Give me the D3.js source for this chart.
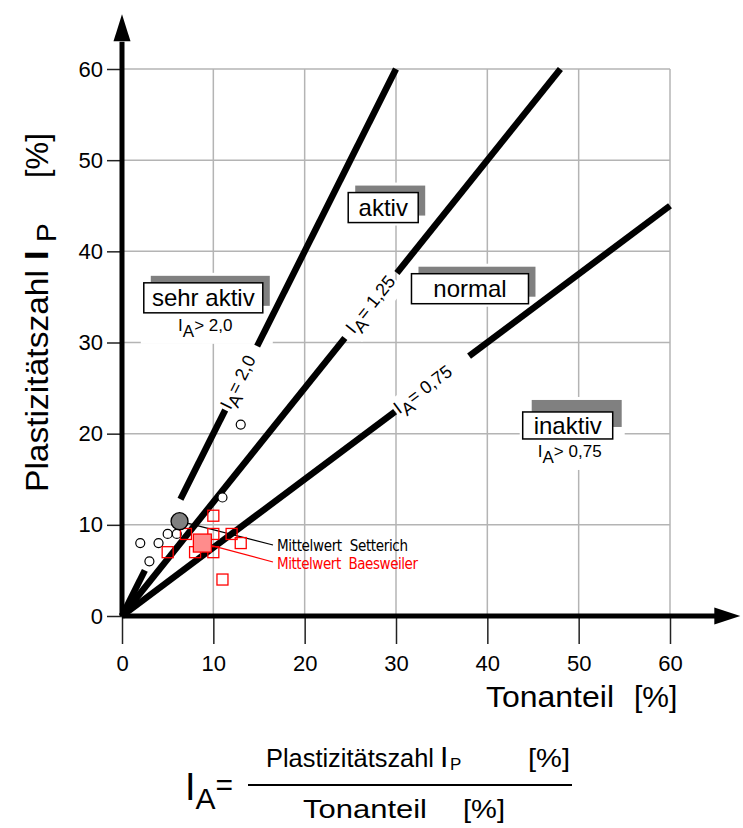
<!DOCTYPE html>
<html>
<head>
<meta charset="utf-8">
<script src="https://cdn.jsdelivr.net/npm/d3@7"></script>
<style>
  body { margin: 0; background: #fff; }
  svg { display: block; }
  text { font-family: "Liberation Sans", Arial, sans-serif; fill: #000; }
  .narrow { font-family: "Liberation Sans Narrow", "DejaVu Sans Condensed", sans-serif; }
</style>
</head>
<body>
<svg id="chart" width="743" height="828"></svg>
<script>
// Axis ticks (both axes share the same values)
const tickValues = [0, 10, 20, 30, 40, 50, 60];
const tickLabels = ["0", "10", "20", "30", "40", "50", "60"];

// Activity lines I_A = I_P / Tonanteil, drawn as pieces with gaps for labels and markers
const activityRatios = [2.0, 1.25, 0.75];
const activityLabels = ["2,0", "1,25", "0,75"];
const activityPieces = [
  [[0, 2.5], [6.4, 11.3], [14.8, 30]],
  [[0, 24.4], [30.1, 48]],
  [[0, 29.9], [38, 60]]
];
const activityLabelAt = [12.8, 27.3, 33];

// Samples Setterich (circles) and Baesweiler (squares): Tonanteil [%], I_P [%]
const setterichTon = [2, 3, 4, 5, 6, 11, 13];
const setterichIp  = [8, 6, 8, 9, 9, 13, 21];
const baesweilerTon = [5, 7, 8, 10, 10, 10, 11, 12, 13];
const baesweilerIp  = [7, 9, 7, 11, 9, 7, 4, 9, 8];
const meanSetterich  = [6.3, 10.4];
const meanBaesweiler = [8.8, 8.0];

// Activity zones
const zoneNames = ["sehr aktiv", "aktiv", "normal", "inaktiv"];
const zoneTon = [8.9, 28.6, 38.1, 48.8];
const zoneIp  = [34.9, 44.8, 35.9, 20.9];
const zoneRules = ["> 2,0", null, null, "> 0,75"];

// Box layout for the zone labels (pixels)
const zoneLayout = [
  { w: 119, h: 30, dx: 7, dy: -7 },
  { w: 70,  h: 30, dx: 7, dy: -7 },
  { w: 117, h: 30, dx: 7, dy: -7 },
  { w: 90,  h: 27, dx: 9, dy: -12 }
];

const svg = d3.select("#chart");
const x = d3.scaleLinear().domain([0, 60]).range([122, 670]);
const y = d3.scaleLinear().domain([0, 60]).range([616, 69]);

const gridColor = "#b4b4b4";

// Grid
const grid = svg.append("g");
grid.selectAll(".gv").data(tickValues.filter(d => d > 0)).join("line")
  .attr("x1", d => x(d)).attr("x2", d => x(d))
  .attr("y1", y(60)).attr("y2", y(0))
  .attr("stroke", gridColor).attr("stroke-width", 1.5);
grid.selectAll(".gh").data(tickValues.filter(d => d > 0)).join("line")
  .attr("x1", x(0)).attr("x2", x(60))
  .attr("y1", d => y(d)).attr("y2", d => y(d))
  .attr("stroke", gridColor).attr("stroke-width", 1.5);

// Axes with ticks
const xAxis = svg.append("g").attr("transform", `translate(0,${y(0)})`)
  .call(d3.axisBottom(x).tickValues(tickValues).tickFormat((d, i) => tickLabels[i])
    .tickSize(28).tickPadding(11));
const yAxis = svg.append("g").attr("transform", `translate(${x(0)},0)`)
  .call(d3.axisLeft(y).tickValues(tickValues).tickFormat((d, i) => tickLabels[i])
    .tickSize(15).tickPadding(4));
[xAxis, yAxis].forEach(a => {
  a.select(".domain").remove();
  a.selectAll(".tick line").attr("stroke", "#222").attr("stroke-width", 1.5);
  a.selectAll(".tick text").attr("font-size", 22).attr("font-family", "Liberation Sans, Arial, sans-serif").attr("fill", "#000");
});

// White backdrop helper so labels cut the grid
function backdrop(g, pad) {
  const b = g.node().getBBox();
  g.insert("rect", ":first-child")
    .attr("x", b.x - pad).attr("y", b.y - pad)
    .attr("width", b.width + 2 * pad).attr("height", b.height + 2 * pad)
    .attr("fill", "#fff");
}

// Text fitted to a given width
function fitted(parent, str, px, py, size, width) {
  return parent.append("text").attr("x", px).attr("y", py).attr("font-size", size)
    .attr("textLength", width).attr("lengthAdjust", "spacingAndGlyphs").text(str);
}

// Zone labels
zoneNames.forEach((name, i) => {
  const L = zoneLayout[i];
  const cx = x(zoneTon[i]), cy = y(zoneIp[i]);
  const g = svg.append("g");
  g.append("rect")
    .attr("x", cx - L.w / 2 + L.dx).attr("y", cy - L.h / 2 + L.dy)
    .attr("width", L.w).attr("height", L.h).attr("fill", "#808080");
  g.append("rect")
    .attr("x", cx - L.w / 2).attr("y", cy - L.h / 2)
    .attr("width", L.w).attr("height", L.h)
    .attr("fill", "#fff").attr("stroke", "#000").attr("stroke-width", 1.5);
  g.append("text").attr("x", cx).attr("y", cy + 8.5)
    .attr("text-anchor", "middle").attr("font-size", 24).text(name);
  if (zoneRules[i]) {
    const t = g.append("text").attr("x", cx + 2).attr("y", cy + L.h / 2 + 18)
      .attr("text-anchor", "middle").attr("font-size", 17);
    t.append("tspan").text("I");
    t.append("tspan").attr("dy", 6).attr("font-size", 17).text("A");
    t.append("tspan").attr("dy", -6).text(zoneRules[i]);
  }
  backdrop(g, 3);
});

// Activity lines
activityRatios.forEach((r, i) => {
  const ang = Math.atan2(y(r * 10) - y(0), x(10) - x(0)) * 180 / Math.PI;
  const lx = activityLabelAt[i];
  const g = svg.append("g")
    .attr("transform", `translate(${x(lx)},${y(r * lx)}) rotate(${ang})`);
  const t = g.append("text").attr("text-anchor", "middle").attr("y", 5).attr("font-size", 18);
  t.append("tspan").text("I");
  t.append("tspan").attr("dy", 6).text("A");
  t.append("tspan").attr("dy", -6).text("= " + activityLabels[i]);
  backdrop(g, 1);

  svg.append("g").selectAll("line").data(activityPieces[i]).join("line")
    .attr("x1", d => x(d[0])).attr("y1", d => y(r * d[0]))
    .attr("x2", d => x(d[1])).attr("y2", d => y(r * d[1]))
    .attr("stroke", "#000").attr("stroke-width", 6.5);
});

// Main axis lines with arrow heads
svg.append("line").attr("x1", x(0)).attr("x2", x(65)).attr("y1", y(0)).attr("y2", y(0))
  .attr("stroke", "#000").attr("stroke-width", 5);
svg.append("line").attr("x1", x(0)).attr("x2", x(0)).attr("y1", y(0)).attr("y2", y(63))
  .attr("stroke", "#000").attr("stroke-width", 5);
const xt = x(67.7), yt = y(66);
svg.append("path").attr("d", `M${xt},${y(0)} L${xt - 26},${y(0) - 8.5} L${xt - 26},${y(0) + 8.5} Z`).attr("fill", "#000");
svg.append("path").attr("d", `M${x(0)},${yt} L${x(0) - 8.5},${yt + 27} L${x(0) + 8.5},${yt + 27} Z`).attr("fill", "#000");

// Leader lines and captions for the means
svg.append("line").attr("x1", x(meanSetterich[0])).attr("y1", y(meanSetterich[1]))
  .attr("x2", 273).attr("y2", 545).attr("stroke", "#000").attr("stroke-width", 1.2);
svg.append("line").attr("x1", x(meanBaesweiler[0])).attr("y1", y(meanBaesweiler[1]))
  .attr("x2", 273).attr("y2", 562).attr("stroke", "#f00").attr("stroke-width", 1.2);
svg.append("text").attr("class", "narrow").attr("x", 277).attr("y", 551)
  .attr("font-size", 15).attr("textLength", 131).attr("xml:space", "preserve").text("Mittelwert  Setterich");
svg.append("text").attr("class", "narrow").attr("x", 277).attr("y", 569)
  .attr("font-size", 15).attr("textLength", 141).style("fill", "#f00").attr("xml:space", "preserve").text("Mittelwert  Baesweiler");

// Sample points
svg.append("g").selectAll("circle").data(setterichTon).join("circle")
  .attr("cx", d => x(d)).attr("cy", (d, i) => y(setterichIp[i])).attr("r", 4.5)
  .attr("fill", "#fff").attr("stroke", "#000").attr("stroke-width", 1.2);
const sq = 11;
svg.append("g").selectAll("rect").data(baesweilerTon).join("rect")
  .attr("x", d => x(d) - sq / 2).attr("y", (d, i) => y(baesweilerIp[i]) - sq / 2)
  .attr("width", sq).attr("height", sq)
  .attr("fill", "none").attr("stroke", "#f00").attr("stroke-width", 1.3);

// Means
svg.append("circle").attr("cx", x(meanSetterich[0])).attr("cy", y(meanSetterich[1])).attr("r", 8.5)
  .attr("fill", "#808080").attr("stroke", "#000").attr("stroke-width", 1.3);
const msq = 18;
svg.append("rect").attr("x", x(meanBaesweiler[0]) - msq / 2).attr("y", y(meanBaesweiler[1]) - msq / 2)
  .attr("width", msq).attr("height", msq)
  .attr("fill", "#ff8c8c").attr("stroke", "#f00").attr("stroke-width", 1.3);

// Axis titles
const yTitle = svg.append("g").attr("transform", "translate(48,492) rotate(-90)");
fitted(yTitle, "Plastizitätszahl", 0, 0, 31, 222);
yTitle.append("text").attr("x", 232).attr("font-size", 34).attr("font-weight", "bold").text("I");
yTitle.append("text").attr("x", 250).attr("y", 8).attr("font-size", 28).text("P");
yTitle.append("text").attr("x", 314).attr("font-size", 31).text("[%]");

fitted(svg, "Tonanteil", 486, 707, 30, 128);
svg.append("text").attr("x", 634).attr("y", 707).attr("font-size", 30).text("[%]");

// Definition of the activity number
const f = svg.append("g");
const ia = f.append("text").attr("x", 185).attr("y", 800).attr("font-size", 30);
ia.append("tspan").attr("font-size", 38).text("I");
ia.append("tspan").attr("dy", 9).attr("font-size", 30).text("A");
ia.append("tspan").attr("dy", -14).attr("font-size", 30).text("=");
f.append("line").attr("x1", 248).attr("x2", 572).attr("y1", 785).attr("y2", 785)
  .attr("stroke", "#000").attr("stroke-width", 2);
fitted(f, "Plastizitätszahl", 266, 767, 26, 168);
f.append("text").attr("x", 440).attr("y", 767).attr("font-size", 30).text("I");
f.append("text").attr("x", 450).attr("y", 770).attr("font-size", 17).text("P");
fitted(f, "[%]", 528, 767, 26, 42);
fitted(f, "Tonanteil", 303, 818, 26, 124);
fitted(f, "[%]", 463, 818, 26, 42);
</script>
</body>
</html>
